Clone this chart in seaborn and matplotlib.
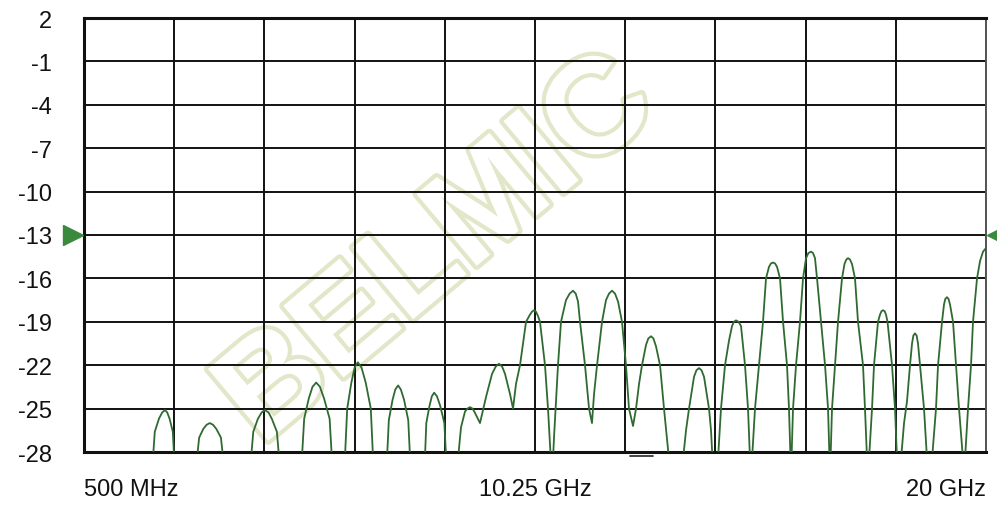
import matplotlib
matplotlib.use("Agg")
import matplotlib.pyplot as plt
import matplotlib.patheffects as pe
import numpy as np
import pandas as pd
import seaborn as sns

# ---- data (GHz, dB) ----
freq_ghz = [
    0.50,
    1.99, 2.03, 2.12, 2.19, 2.25, 2.30, 2.35, 2.42, 2.45,
    2.94, 2.99, 3.08, 3.15, 3.22, 3.29, 3.36, 3.46, 3.51,
    4.11, 4.16, 4.26, 4.34, 4.41, 4.49, 4.56, 4.67, 4.72,
    5.21, 5.26, 5.36, 5.44, 5.52, 5.60, 5.69, 5.81, 5.86,
    6.14, 6.19, 6.28, 6.35, 6.42, 6.50, 6.59, 6.70, 6.75,
    7.05, 7.09, 7.17, 7.23, 7.29, 7.35, 7.42, 7.51, 7.55,
    7.87, 7.90, 7.97, 8.02, 8.07, 8.13, 8.20, 8.29, 8.33,
    8.585, 8.650, 8.737, 8.79, 8.845, 8.90, 8.953, 9.061,
    9.191, 9.321, 9.40, 9.472, 9.54, 9.602, 9.710, 9.775,
    9.839, 9.926, 10.056, 10.142, 10.185, 10.229, 10.27, 10.315, 10.358, 10.466, 10.531, 10.618,
    10.661, 10.704, 10.747, 10.812, 10.920, 11.00, 11.072, 11.13, 11.180, 11.223, 11.331, 11.418, 11.482,
    11.526, 11.591, 11.699, 11.785, 11.85, 11.915, 11.98, 12.045, 12.131, 12.217, 12.282, 12.369,
    12.434, 12.499, 12.563, 12.650, 12.70, 12.758, 12.81, 12.866, 12.953, 13.039, 13.147,
    13.450, 13.515, 13.580, 13.688, 13.74, 13.796, 13.85, 13.904, 14.012, 14.055, 14.088,
    14.206, 14.271, 14.358, 14.444, 14.509, 14.55, 14.596, 14.65, 14.704, 14.790, 14.855, 14.898,
    14.942, 15.006, 15.093, 15.179, 15.244, 15.309, 15.35, 15.396, 15.44, 15.482, 15.547, 15.612, 15.698, 15.741, 15.774,
    15.795, 15.828, 15.893, 15.979, 16.044, 16.109, 16.16, 16.217, 16.26, 16.303, 16.347, 16.433, 16.520, 16.585, 16.617,
    16.639, 16.671, 16.736, 16.801, 16.887, 16.941, 16.98, 17.017, 17.06, 17.103, 17.168, 17.233, 17.341, 17.384, 17.428,
    17.471, 17.536, 17.579, 17.665, 17.709, 17.74, 17.774, 17.81, 17.838, 17.871, 17.968, 18.033, 18.076,
    18.163, 18.228, 18.292, 18.357, 18.401, 18.43, 18.465, 18.50, 18.530, 18.574, 18.660, 18.725,
    18.833, 18.919, 18.963, 19.049, 19.092, 19.12, 19.157, 19.19, 19.222, 19.287, 19.352, 19.417, 19.503,
    19.546, 19.611, 19.676, 19.719, 19.806, 19.871, 19.936, 20.000,
]
s11_db = [
    -28.5,
    -28.5, -26.6, -25.7, -25.27, -25.1, -25.27, -25.7, -26.6, -28.5,
    -28.5, -27.0, -26.4, -26.12, -26.0, -26.12, -26.4, -27.0, -28.5,
    -28.5, -26.6, -25.7, -25.27, -25.1, -25.27, -25.7, -26.6, -28.5,
    -28.5, -25.7, -24.3, -23.49, -23.2, -23.49, -24.3, -25.7, -28.5,
    -28.5, -25.0, -23.2, -22.17, -21.8, -22.17, -23.2, -25.0, -28.5,
    -28.5, -25.8, -24.4, -23.68, -23.4, -23.68, -24.4, -25.8, -28.5,
    -28.5, -26.0, -24.8, -24.15, -23.9, -24.15, -24.8, -26.0, -28.5,
    -28.5, -26.3, -25.2, -25.0, -24.9, -25.0, -25.3, -26.0,
    -24.2, -22.6, -22.1, -21.9, -22.1, -22.6, -24.0, -25.0,
    -23.3, -22.0, -19.0, -18.5, -18.3, -18.2, -18.3, -18.6, -19.0, -22.0, -25.0, -30.0,
    -27.0, -24.5, -22.0, -19.0, -17.5, -17.05, -16.85, -17.05, -17.6, -19.0, -22.0, -25.0, -26.0,
    -24.0, -22.0, -19.0, -17.5, -17.05, -16.85, -17.05, -17.6, -19.0, -22.0, -25.0, -26.2,
    -25.0, -23.3, -22.0, -20.6, -20.15, -20.0, -20.15, -20.7, -22.0, -25.0, -28.5,
    -28.5, -26.5, -25.0, -22.8, -22.35, -22.2, -22.35, -22.8, -25.0, -26.5, -28.5,
    -28.5, -25.0, -22.0, -20.3, -19.3, -19.0, -18.9, -19.0, -19.3, -22.0, -25.0, -28.5,
    -28.5, -25.0, -22.0, -19.0, -16.0, -15.2, -14.97, -14.9, -14.97, -15.2, -16.0, -19.0, -22.0, -25.0, -28.5,
    -28.5, -25.0, -22.0, -19.0, -16.0, -14.6, -14.25, -14.15, -14.25, -14.6, -16.0, -19.0, -22.0, -25.0, -28.5,
    -28.5, -25.0, -22.0, -19.0, -16.0, -15.0, -14.7, -14.6, -14.7, -15.0, -16.0, -19.0, -22.0, -25.0, -28.5,
    -28.5, -25.0, -22.0, -19.0, -18.5, -18.27, -18.2, -18.27, -18.5, -19.0, -22.0, -25.0, -28.5,
    -28.5, -26.0, -24.5, -22.0, -20.5, -19.95, -19.8, -19.95, -20.5, -22.0, -25.0, -28.5,
    -28.5, -25.0, -22.0, -19.0, -17.8, -17.42, -17.3, -17.42, -17.8, -19.0, -22.0, -25.0, -28.5,
    -28.5, -25.0, -22.0, -19.0, -16.0, -14.8, -14.15, -13.9,
]

y_ticks = [2, -1, -4, -7, -10, -13, -16, -19, -22, -25, -28]
x_start_ghz, x_stop_ghz, x_divisions = 0.5, 20.0, 10
x_tick_labels = ["500 MHz", "", "", "", "", "10.25 GHz", "", "", "", "", "20 GHz"]
ref_level_db = -13
watermark = "BELMIC"

df = pd.DataFrame({"freq": freq_ghz, "db": s11_db})

sns.set_style("white")
plt.rcParams["font.family"] = ["Liberation Sans", "DejaVu Sans"]

fig = plt.figure(figsize=(9.97, 5.06), dpi=100)
fig.patch.set_facecolor("white")

# watermark behind everything (kept inside the figure)
fig.text(0.44, 0.50, watermark, fontsize=98, fontweight="bold", rotation=40,
         color="white", ha="center", va="center", zorder=-5,
         path_effects=[pe.withStroke(linewidth=6, foreground="#e2e7c9")])

ax = fig.add_axes([84 / 997, 1 - 453 / 506, 902 / 997, 434 / 506])
ax.set_facecolor("none")

sns.lineplot(data=df, x="freq", y="db", ax=ax, color="#2f6a30", linewidth=1.3,
             estimator=None, sort=False, zorder=3)

xt = np.linspace(x_start_ghz, x_stop_ghz, x_divisions + 1)
ax.set_xlim(x_start_ghz, x_stop_ghz)
ax.set_ylim(min(y_ticks), max(y_ticks))
ax.set_xticks(xt)
ax.set_xticklabels(x_tick_labels)
ax.set_yticks(y_ticks)
ax.set_yticklabels([str(v) for v in y_ticks])
tl = ax.get_xticklabels()
tl[0].set_ha("left")
tl[-1].set_ha("right")
ax.tick_params(axis="both", length=0, labelsize=17, colors="#111111")
ax.tick_params(axis="x", pad=19)
ax.tick_params(axis="y", pad=23)
ax.set_xlabel("")
ax.set_ylabel("")

ax.grid(True, color="#111111", linewidth=1.4)
ax.set_axisbelow(True)
for side in ["left", "top", "bottom"]:
    ax.spines[side].set_linewidth(2.2)
    ax.spines[side].set_color("#111111")
ax.spines["right"].set_linewidth(1.4)
ax.spines["right"].set_color("#555555")

# reference level markers
tr = ax.get_yaxis_transform()
ax.plot([-0.0127], [ref_level_db], marker=">", markersize=14, color="#3a8a3e",
        transform=tr, clip_on=False, zorder=5)
ax.plot([1.0127], [ref_level_db], marker="<", markersize=14, color="#3a8a3e",
        transform=tr, clip_on=False, zorder=5)
# small marker dash below the axis
ax.plot([0.605, 0.631], [-0.009, -0.009], color="#222222", linewidth=1.2,
        transform=ax.transAxes, clip_on=False)

fig.savefig("out.png", dpi=100, facecolor="white")
